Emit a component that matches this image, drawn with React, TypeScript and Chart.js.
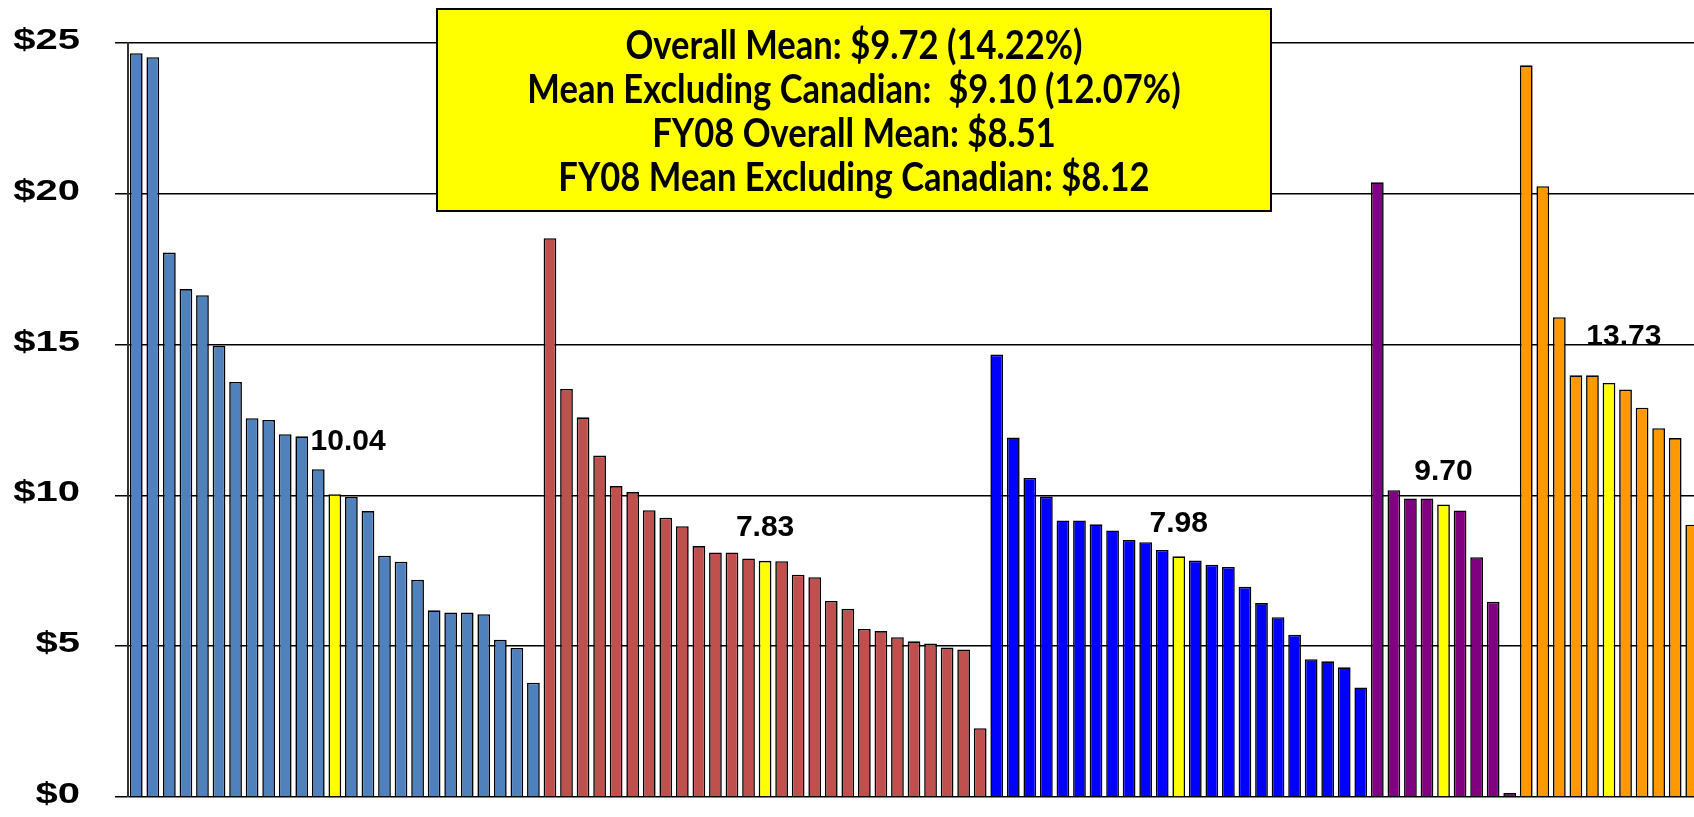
import React, { useEffect, useRef } from "react";
import { Chart, registerables } from "chart.js";

Chart.register(...registerables);

// ---- Data ----
const steelBlueValues = [
  24.66, 24.53, 18.05, 16.84, 16.64, 14.96, 13.76, 12.56, 12.5, 12.03, 11.96, 10.87,
  10.04, 9.95, 9.48, 8.0, 7.8, 7.2, 6.19, 6.12, 6.12, 6.06, 5.21, 4.94, 3.79,
];
const redValues = [
  18.53, 13.53, 12.59, 11.32, 10.31, 10.11, 9.51, 9.26, 8.98, 8.32, 8.11, 8.11, 7.91,
  7.83, 7.82, 7.37, 7.29, 6.5, 6.24, 5.57, 5.5, 5.3, 5.16, 5.09, 4.96, 4.89, 2.28,
];
const blueValues = [
  14.67, 11.92, 10.58, 9.96, 9.17, 9.17, 9.04, 8.84, 8.52, 8.45, 8.19, 7.98, 7.84,
  7.7, 7.63, 6.97, 6.43, 5.96, 5.38, 4.57, 4.5, 4.3, 3.63,
];
const purpleValues = [20.38, 10.17, 9.9, 9.9, 9.7, 9.5, 7.95, 6.47, 0.13];
const orangeValues = [24.26, 20.25, 15.91, 13.98, 13.98, 13.73, 13.51, 12.91, 12.23, 11.9, 9.03];

const groupColors = ["#4F81BD", "#C0504D", "#0000FF", "#800080", "#FF9900"];
const groupValues = [steelBlueValues, redValues, blueValues, purpleValues, orangeValues];
const MEDIAN_COLOR = "#FFFF00";

const yTickValues = [0, 5, 10, 15, 20, 25];
const formatTick = (v: number) => "$" + v;

const boxLines = [
  "Overall Mean: $9.72 (14.22%)",
  "Mean Excluding Canadian:  $9.10 (12.07%)",
  "FY08 Overall Mean: $8.51",
  "FY08 Mean Excluding Canadian: $8.12",
];

// label placement for each group's median label: category offset from the median bar, and height in $
const medianLabelOffsets = [0.8, 0, 0, 0, 0.9];
const medianLabelHeights = [11.78, 8.94, 9.05, 10.78, 15.25];

// ---- Derived ----
const allValues: number[] = [];
const allColors: string[] = [];
const medianIndices: number[] = [];
groupValues.forEach((vals, g) => {
  const mid = Math.floor(vals.length / 2);
  vals.forEach((v, i) => {
    if (i === mid) medianIndices.push(allValues.length);
    allValues.push(v);
    allColors.push(i === mid ? MEDIAN_COLOR : groupColors[g]);
  });
});
const categories = allValues.map((_, i) => String(i + 1));

const overlayPlugin = {
  id: "overlay",
  afterDraw(chart: any) {
    const { ctx, scales } = chart;
    const x = scales.x;
    const y = scales.y;
    ctx.save();
    ctx.fillStyle = "#000";

    // y-axis tick labels (wide, heavy)
    ctx.font = 'bold 29px "Liberation Sans", Arial, sans-serif';
    ctx.textAlign = "right";
    ctx.textBaseline = "middle";
    for (const v of yTickValues) {
      const py = y.getPixelForValue(v);
      ctx.save();
      ctx.translate(80, py - 2);
      ctx.scale(1.38, 1);
      ctx.fillText(formatTick(v), 0, 0);
      ctx.restore();
    }

    // median labels
    ctx.font = 'bold 30px "Liberation Sans", Arial, sans-serif';
    ctx.textAlign = "center";
    medianIndices.forEach((idx, g) => {
      const px = x.getPixelForValue(idx + medianLabelOffsets[g]);
      const py = y.getPixelForValue(medianLabelHeights[g]);
      ctx.fillText(allValues[idx].toFixed(2), px, py);
    });

    // summary box
    const bx = 437, by = 9, bw = 834, bh = 202;
    ctx.fillStyle = "#FFFF00";
    ctx.fillRect(bx, by, bw, bh);
    ctx.lineWidth = 2;
    ctx.strokeStyle = "#000";
    ctx.strokeRect(bx, by, bw, bh);
    ctx.fillStyle = "#000";
    ctx.font = 'bold 30px Lato, "Open Sans", sans-serif';
    const w = ctx.measureText(boxLines[1]).width;
    const squeeze = 1.14;
    const size = ((30 * 654) / w) * squeeze;
    ctx.font = `bold ${size.toFixed(1)}px Lato, "Open Sans", sans-serif`;
    ctx.textAlign = "center";
    ctx.textBaseline = "middle";
    const cx = bx + bw / 2;
    boxLines.forEach((line, i) => {
      ctx.save();
      ctx.translate(cx, 46 + i * 44);
      ctx.scale(1 / squeeze, 1);
      ctx.fillText(line, 0, 0);
      ctx.restore();
    });
    ctx.restore();
  },
};

export default function App() {
  const canvasRef = useRef<HTMLCanvasElement | null>(null);

  useEffect(() => {
    if (!canvasRef.current) return;
    const chart = new Chart(canvasRef.current, {
      type: "bar",
      data: {
        labels: categories,
        datasets: [
          {
            data: allValues,
            backgroundColor: allColors,
            borderColor: "#000",
            borderWidth: 1.6,
            barPercentage: 0.77,
            categoryPercentage: 1.0,
          },
        ],
      },
      options: {
        responsive: false,
        animation: false,
        devicePixelRatio: 1,
        layout: { padding: { top: 43, bottom: 20, left: 0, right: 0 } },
        plugins: {
          legend: { display: false },
          tooltip: { enabled: false },
        },
        scales: {
          x: {
            display: false,
            offset: true,
            grid: { display: false },
          },
          y: {
            min: 0,
            max: 25,
            ticks: { stepSize: 5, display: false },
            grid: {
              color: "#000",
              lineWidth: 1.5,
              drawTicks: true,
              tickLength: 13,
            },
            border: { display: true, color: "#333", width: 2 },
            afterFit(scale: any) {
              scale.width = 128;
            },
          },
        },
      },
      plugins: [overlayPlugin],
    });
    return () => chart.destroy();
  }, []);

  return (
    <div
      style={{
        position: "absolute",
        left: 0,
        top: 0,
        width: 1694,
        height: 817,
        overflow: "hidden",
        background: "#fff",
      }}
    >
      <canvas ref={canvasRef} width={1700} height={817} style={{ display: "block" }} />
    </div>
  );
}
